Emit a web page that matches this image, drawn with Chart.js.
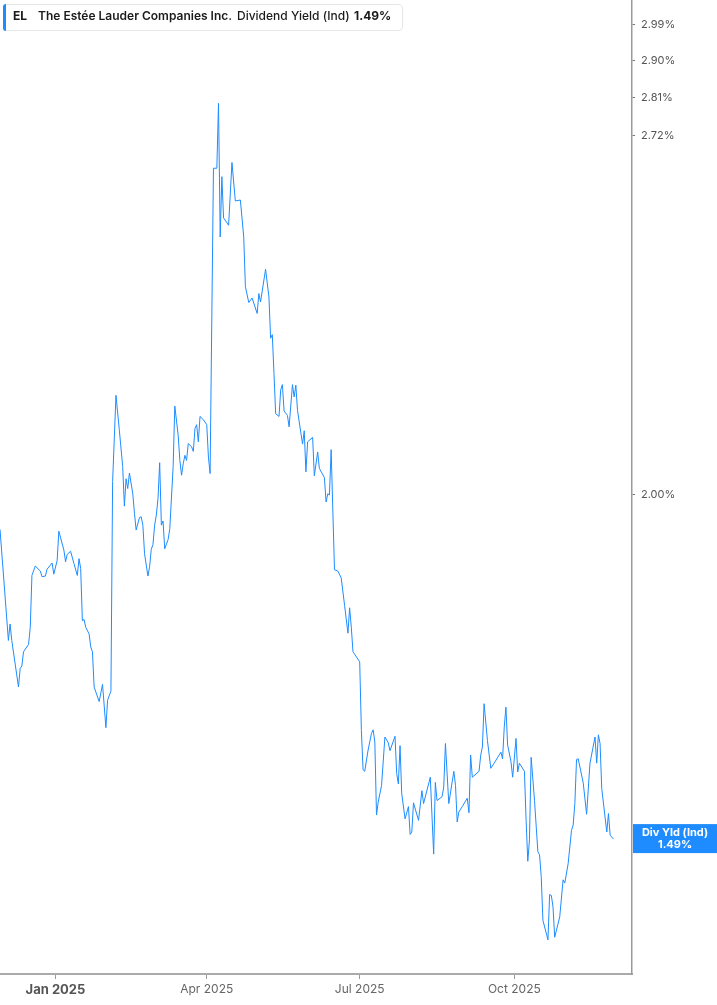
<!DOCTYPE html>
<html><head><meta charset="utf-8">
<script src="https://cdn.jsdelivr.net/npm/chart.js@4"></script>
<style>
html,body{margin:0;padding:0;background:#fff;}
#wrap{position:relative;width:717px;height:1005px;overflow:hidden;}
#c{position:absolute;left:0;top:0;}
#legendBox{position:absolute;left:3px;top:4px;width:400px;height:27px;border:1px solid #e6e6e6;border-radius:4px;background:#fff;box-sizing:border-box;}
#legendBar{position:absolute;left:3px;top:4px;width:3px;height:27px;background:#1e8cff;border-radius:3px 0 0 3px;}
.lg{position:absolute;top:9px;font-family:Inter,"Noto Sans",sans-serif;font-size:12px;line-height:14px;color:#1b1b1b;white-space:nowrap;}
</style></head>
<body>
<div id="wrap">
<canvas id="c" width="717" height="1005"></canvas>
<div id="legendBox"></div><div id="legendBar"></div>
<span class="lg" id="lgTicker" style="left:13px;font-weight:700;"></span>
<span class="lg" id="lgName" style="left:38px;font-weight:600;"></span>
<span class="lg" id="lgMetric" style="left:237px;font-weight:500;"></span>
<span class="lg" id="lgValue" style="left:354px;font-weight:700;"></span>
</div>
<script>
// ---- data ----
const ticker = "EL";
const companyName = "The Estée Lauder Companies Inc.";
const metricName = "Dividend Yield (Ind)";
const metricShort = "Div Yld (Ind)";

const dates = [
 "2024-11-29","2024-12-04","2024-12-05","2024-12-06","2024-12-10","2024-12-11","2024-12-12","2024-12-13","2024-12-16","2024-12-17","2024-12-18","2024-12-20","2024-12-23","2024-12-24","2024-12-26","2024-12-27","2024-12-30","2024-12-31",
 "2025-01-02","2025-01-03","2025-01-06","2025-01-07","2025-01-08","2025-01-10","2025-01-12","2025-01-14","2025-01-15","2025-01-16","2025-01-17","2025-01-18","2025-01-19","2025-01-21","2025-01-22","2025-01-23","2025-01-24","2025-01-27","2025-01-29","2025-01-31",
 "2025-02-01","2025-02-03","2025-02-04","2025-02-06","2025-02-08","2025-02-10","2025-02-11","2025-02-12","2025-02-13","2025-02-14","2025-02-16","2025-02-17","2025-02-18","2025-02-20","2025-02-21","2025-02-22","2025-02-23","2025-02-25","2025-02-26","2025-02-27","2025-02-28",
 "2025-03-01","2025-03-02","2025-03-03","2025-03-04","2025-03-05","2025-03-06","2025-03-07","2025-03-09","2025-03-10","2025-03-12","2025-03-13","2025-03-15","2025-03-16","2025-03-17","2025-03-18","2025-03-19","2025-03-20","2025-03-21","2025-03-23","2025-03-24","2025-03-25","2025-03-26","2025-03-27","2025-03-28","2025-03-30",
 "2025-04-01","2025-04-02","2025-04-03","2025-04-05","2025-04-07","2025-04-08","2025-04-09","2025-04-10","2025-04-11","2025-04-14","2025-04-16","2025-04-18","2025-04-21","2025-04-23","2025-04-24","2025-04-26","2025-04-28",
 "2025-05-01","2025-05-02","2025-05-03","2025-05-06","2025-05-08","2025-05-09","2025-05-10","2025-05-11","2025-05-12","2025-05-14","2025-05-15","2025-05-16","2025-05-17","2025-05-19","2025-05-20","2025-05-22","2025-05-23","2025-05-24","2025-05-25","2025-05-28","2025-05-29","2025-05-30","2025-05-31",
 "2025-06-03","2025-06-04","2025-06-06","2025-06-07","2025-06-10","2025-06-11","2025-06-12","2025-06-13","2025-06-14","2025-06-16","2025-06-18","2025-06-20","2025-06-22","2025-06-24","2025-06-25","2025-06-26","2025-06-27",
 "2025-07-01","2025-07-02","2025-07-03","2025-07-04","2025-07-06","2025-07-08","2025-07-09","2025-07-10","2025-07-11","2025-07-12","2025-07-14","2025-07-16","2025-07-18","2025-07-19","2025-07-22","2025-07-23","2025-07-24","2025-07-25","2025-07-26","2025-07-28","2025-07-30","2025-07-31",
 "2025-08-01","2025-08-02","2025-08-05","2025-08-07","2025-08-08","2025-08-12","2025-08-14","2025-08-15","2025-08-16","2025-08-19","2025-08-20","2025-08-21","2025-08-23","2025-08-26","2025-08-27","2025-08-28","2025-08-29","2025-08-31",
 "2025-09-03","2025-09-04","2025-09-05","2025-09-06","2025-09-10","2025-09-11","2025-09-12","2025-09-13","2025-09-15","2025-09-17","2025-09-19","2025-09-23","2025-09-24","2025-09-25","2025-09-26","2025-09-27","2025-09-29","2025-09-30",
 "2025-10-02","2025-10-03","2025-10-04","2025-10-07","2025-10-08","2025-10-09","2025-10-10","2025-10-11","2025-10-13","2025-10-15","2025-10-16","2025-10-17","2025-10-18","2025-10-21","2025-10-22","2025-10-23","2025-10-24","2025-10-25","2025-10-28","2025-10-30","2025-10-31",
 "2025-11-02","2025-11-04","2025-11-05","2025-11-06","2025-11-07","2025-11-08","2025-11-11","2025-11-13","2025-11-15","2025-11-18","2025-11-19","2025-11-20","2025-11-21","2025-11-22","2025-11-25","2025-11-26","2025-11-27","2025-11-29"
];

const yields = [
 1.942,1.766,1.791,1.766,1.697,1.724,1.728,1.749,1.760,1.786,1.867,1.882,1.874,1.865,1.866,1.877,1.887,1.869,
 1.891,1.939,1.908,1.889,1.901,1.906,1.886,1.867,1.894,1.878,1.796,1.798,1.786,1.776,1.756,1.749,1.697,1.676,1.701,1.639,
 1.678,1.691,2.023,2.178,2.114,2.049,1.981,2.028,2.011,2.038,2.002,1.969,1.941,1.962,1.963,1.949,1.902,1.866,1.881,1.909,1.917,
 1.949,1.966,1.994,2.056,1.949,1.956,1.910,1.925,1.943,2.049,2.158,2.105,2.060,2.034,2.054,2.069,2.060,2.090,2.084,2.076,2.117,2.124,2.093,2.139,2.133,
 2.124,2.066,2.037,2.645,2.645,2.796,2.494,2.626,2.535,2.519,2.658,2.572,2.574,2.494,2.390,2.358,2.367,
 2.336,2.376,2.359,2.426,2.369,2.287,2.294,2.219,2.144,2.139,2.188,2.198,2.149,2.141,2.120,2.198,2.175,2.197,2.150,2.089,2.113,2.040,2.093,
 2.101,2.033,2.075,2.046,2.030,1.988,2.002,2.000,2.079,1.876,1.874,1.863,1.820,1.777,1.816,1.786,1.749,
 1.734,1.635,1.581,1.579,1.608,1.631,1.636,1.619,1.521,1.538,1.560,1.626,1.618,1.607,1.627,1.576,1.562,1.614,1.549,1.516,1.532,1.496,
 1.499,1.537,1.514,1.553,1.536,1.571,1.471,1.564,1.540,1.545,1.558,1.617,1.536,1.579,1.560,1.512,1.525,1.532,
 1.543,1.524,1.601,1.571,1.579,1.601,1.612,1.673,1.621,1.583,1.590,1.605,1.596,1.640,1.668,1.615,1.592,1.571,
 1.624,1.578,1.590,1.579,1.514,1.462,1.489,1.598,1.540,1.474,1.470,1.443,1.390,1.367,1.421,1.420,1.406,1.370,1.394,1.439,1.435,
 1.459,1.501,1.508,1.536,1.595,1.596,1.563,1.522,1.590,1.626,1.590,1.629,1.617,1.556,1.499,1.523,1.495,1.490
];

const xTickDates = ["2025-01-01","2025-04-01","2025-07-01","2025-10-01"];
const xTickLabels = ["Jan 2025","Apr 2025","Jul 2025","Oct 2025"];
const yTickValues = [2.00, 2.72, 2.81, 2.90, 2.99];

const xRange = ["2024-11-29","2025-12-10"];
const yRange = [1.3276, 3.0544];

// ---- chart ----
const lastValue = yields[yields.length - 1];
document.getElementById('lgTicker').textContent = ticker;
document.getElementById('lgName').textContent = companyName;
document.getElementById('lgMetric').textContent = metricName;
document.getElementById('lgValue').textContent = lastValue.toFixed(2) + '%';

const toDay = s => { const [y,m,d] = s.split('-').map(Number); return (Date.UTC(y,m-1,d) - Date.UTC(2025,0,1)) / 86400000; };
const points = dates.map((d,i) => ({x: toDay(d), y: yields[i]}));
const xTickDays = xTickDates.map(toDay);
const LINE = '#1e8cff';

const lastLabel = {
  id: 'lastLabel',
  afterDraw(chart) {
    const {ctx, chartArea, scales} = chart;
    const py = scales.y.getPixelForValue(lastValue);
    const x0 = chartArea.right + 1;
    ctx.save();
    ctx.fillStyle = LINE;
    ctx.fillRect(x0, py - 15, chart.width - x0, 29);
    ctx.fillStyle = '#fff';
    ctx.font = 'bold 11px Inter, "Noto Sans", sans-serif';
    ctx.textAlign = 'center';
    ctx.textBaseline = 'middle';
    const cx = (x0 + chart.width) / 2;
    ctx.fillText(metricShort, cx, py - 6);
    ctx.fillText(lastValue.toFixed(2) + '%', cx, py + 6);
    ctx.restore();
  }
};

const noPad = s => { s.paddingTop = 0; s.paddingBottom = 0; s.paddingLeft = 0; s.paddingRight = 0; };

new Chart(document.getElementById('c'), {
  type: 'line',
  data: { datasets: [{ data: points, borderColor: LINE, borderWidth: 1, pointRadius: 0, tension: 0, fill: false }] },
  options: {
    responsive: false,
    animation: false,
    layout: { padding: 0 },
    plugins: { legend: { display: false }, tooltip: { enabled: false } },
    scales: {
      x: {
        type: 'linear',
        bounds: 'data',
        min: toDay(xRange[0]),
        max: toDay(xRange[1]),
        afterBuildTicks: s => { s.ticks = xTickDays.map(v => ({ value: v })); s.min = toDay(xRange[0]); s.max = toDay(xRange[1]); },
        afterFit: s => { s.height = 31; noPad(s); },
        ticks: {
          autoSkip: false, maxRotation: 0, padding: 3,
          callback: v => { const i = xTickDays.indexOf(v); return i >= 0 ? xTickLabels[i] : ''; },
          color: c => (c.index === 0 ? '#555' : '#666'),
          font: c => (c.index === 0 ? { family: 'Inter', size: 13, weight: 'bold' } : { family: 'Inter', size: 12 })
        },
        grid: { drawOnChartArea: false, tickLength: 5, color: '#999' },
        border: { color: '#aaa', width: 2 }
      },
      y: {
        type: 'logarithmic',
        position: 'right',
        bounds: 'data',
        min: yRange[0],
        max: yRange[1],
        afterBuildTicks: s => { s.ticks = yTickValues.map(v => ({ value: v })); s.min = yRange[0]; s.max = yRange[1]; },
        afterFit: s => { s.width = 85; noPad(s); },
        ticks: {
          padding: 6,
          callback: v => Number(v).toFixed(2) + '%',
          color: '#555',
          font: { family: 'Inter', size: 11 }
        },
        grid: { drawOnChartArea: false, tickLength: 3, color: '#777' },
        border: { color: '#999', width: 1.5 }
      }
    }
  },
  plugins: [lastLabel]
});
</script>
</body></html>
